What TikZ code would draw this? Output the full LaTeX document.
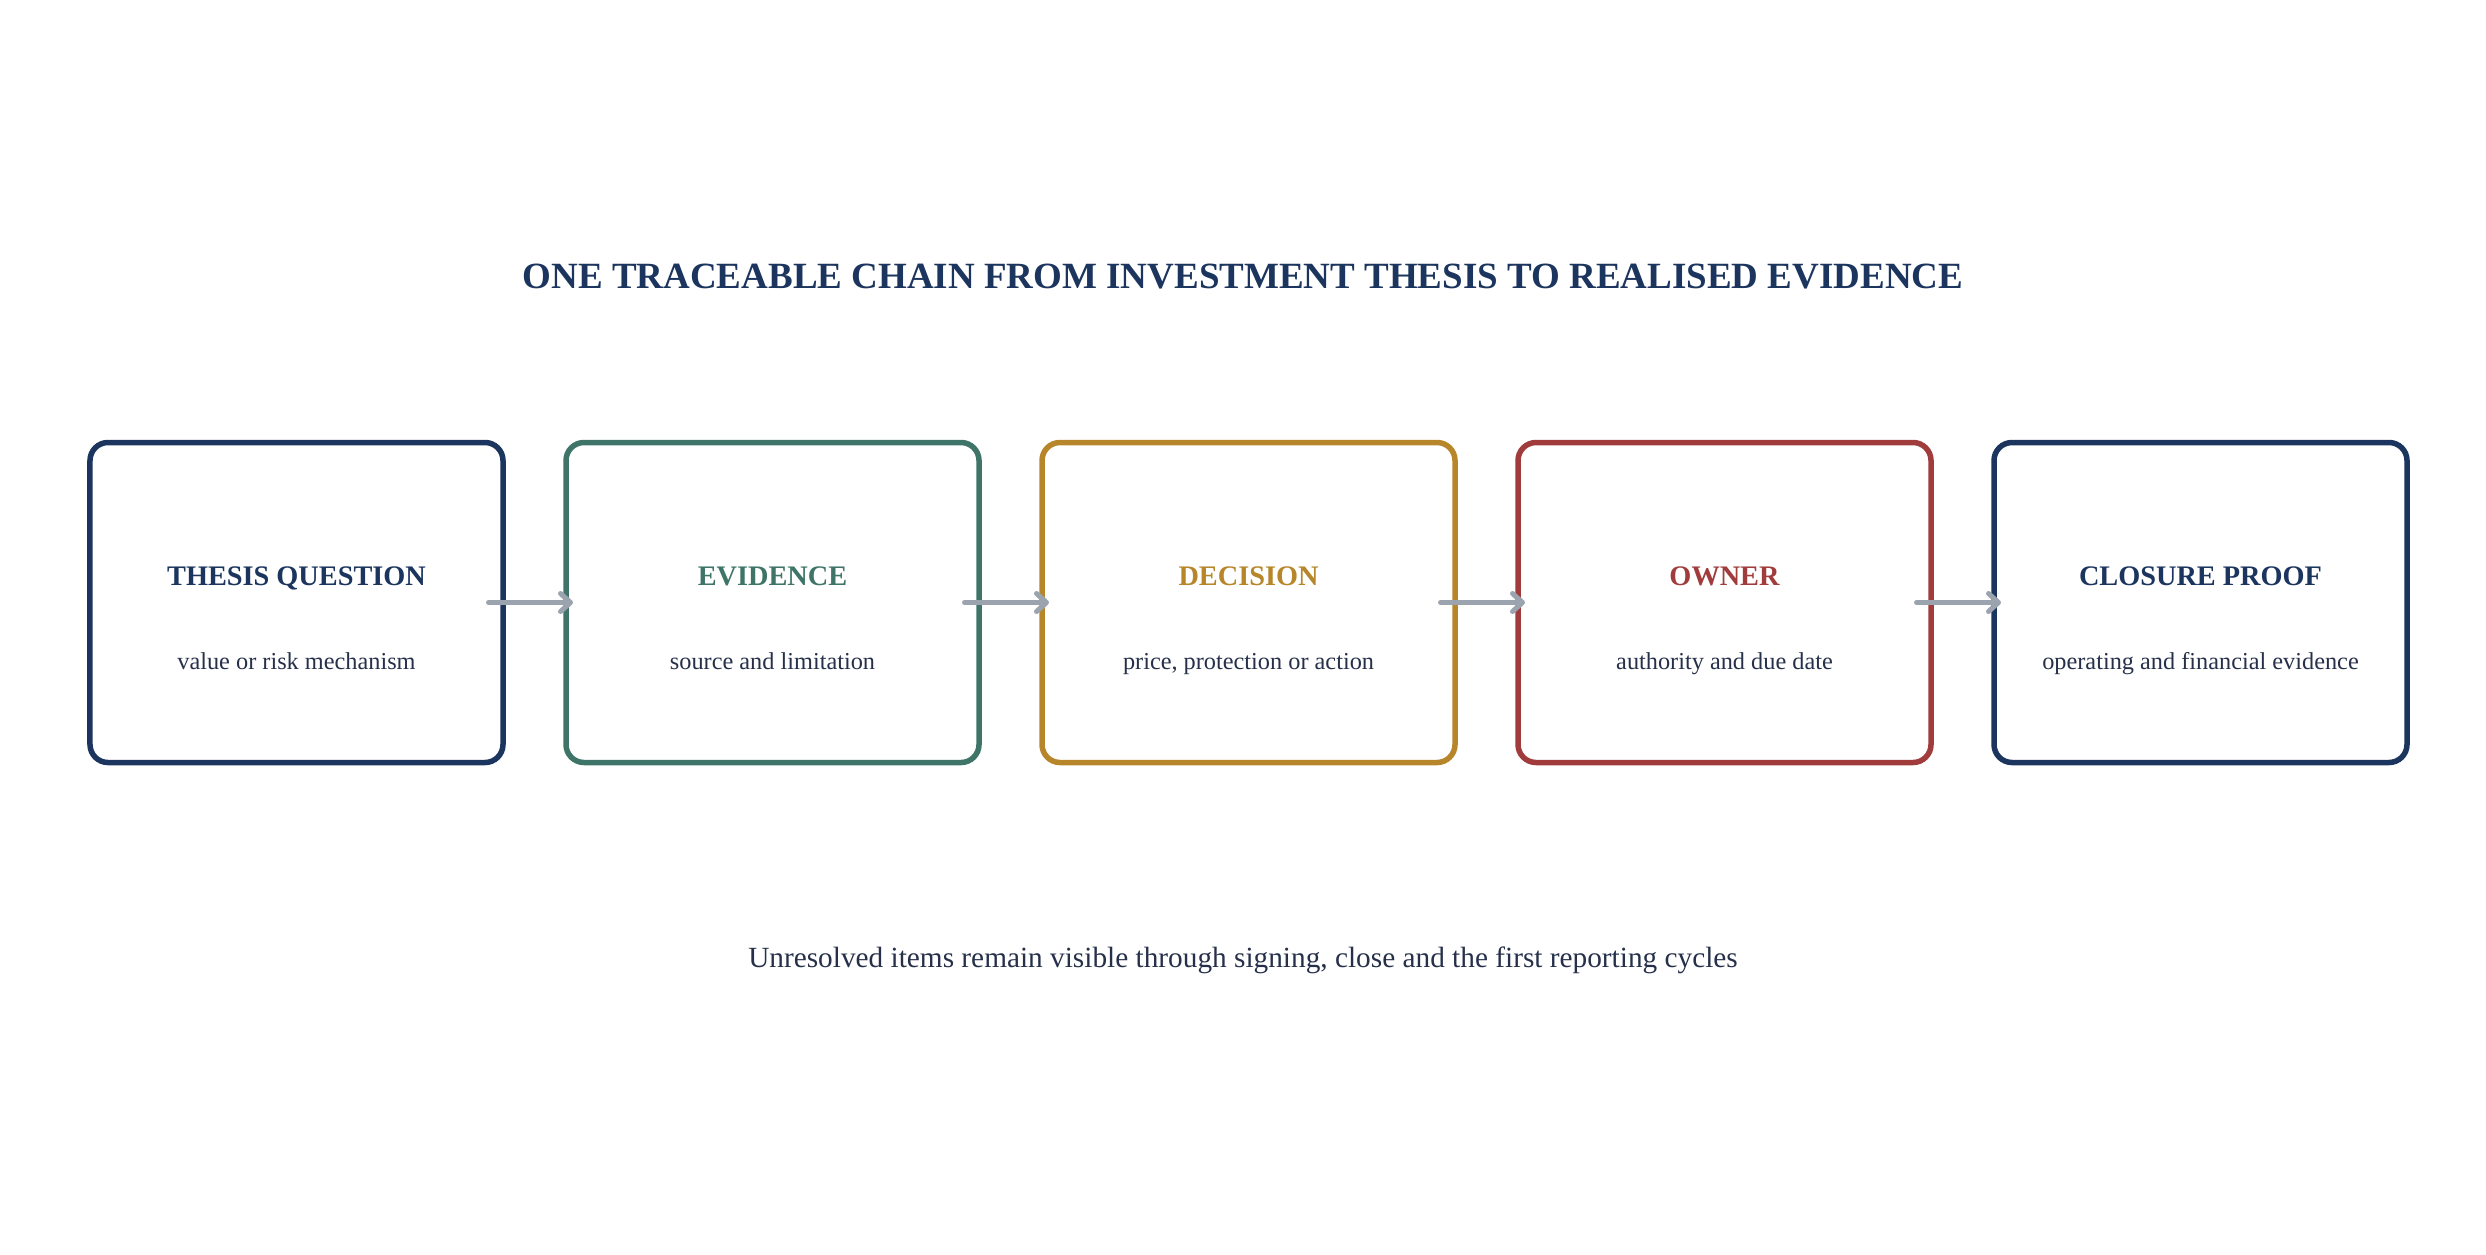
\documentclass[tikz,border=0pt]{standalone}
\usepackage{fontspec}
\setmainfont{Liberation Serif}
\usetikzlibrary{arrows.meta}
\definecolor{navy}{HTML}{1C355E}
\definecolor{teal}{HTML}{3E7568}
\definecolor{gold}{HTML}{B8862A}
\definecolor{crimson}{HTML}{A03C3C}
\definecolor{ink}{HTML}{26304A}
\definecolor{arrowgray}{HTML}{9AA3AE}
\tikzset{
  stagebox/.style={draw=#1, line width=5.5bp, rounded corners=18bp, minimum width=413bp, minimum height=320bp, inner sep=0pt, outer sep=0pt, fill=white},
  stagetitle/.style={anchor=base, text=#1, font=\fontsize{28.3bp}{34bp}\selectfont\bfseries, inner sep=0pt},
  stagesub/.style={anchor=base, text=ink, font=\fontsize{24.3bp}{29bp}\selectfont, inner sep=0pt},
  flow/.style={draw=arrowgray, line width=5bp, line cap=round, -{Straight Barb[length=10bp, width=18bp, line join=round, line cap=round]}},
}
\begin{document}
\begin{tikzpicture}[x=1bp, y=-1bp]
\useasboundingbox (0,0) rectangle (2486,1254);
\node[anchor=base, text=navy, font=\fontsize{37bp}{44bp}\selectfont\bfseries, inner sep=0pt] (title) at (1243,288) {ONE TRACEABLE CHAIN FROM INVESTMENT THESIS TO REALISED EVIDENCE};
\foreach \i/\c/\t/\s in {1/navy/THESIS QUESTION/value or risk mechanism, 2/teal/EVIDENCE/source and limitation, 3/gold/DECISION/{price, protection or action}, 4/crimson/OWNER/authority and due date, 5/navy/CLOSURE PROOF/operating and financial evidence}{
  \node[stagebox=\c] (b\i) at ({296.5+(\i-1)*476},602.5) {};
  \node[stagetitle=\c] (t\i) at ({296.5+(\i-1)*476},585) {\t};
  \node[stagesub] (s\i) at ({296.5+(\i-1)*476},669) {\s};
}
\foreach \i [evaluate=\i as \j using int(\i+1)] in {1,2,3,4}{
  \coordinate (a\i) at ([xshift=-14.5bp]b\i.east);
  \coordinate (e\i) at ([xshift=7bp]b\j.west);
  \draw[flow] (a\i) -- (e\i);
}
\node[anchor=base, text=ink, font=\fontsize{29.3bp}{35bp}\selectfont, inner sep=0pt] (note) at (1243,967) {Unresolved items remain visible through signing, close and the first reporting cycles};
\end{tikzpicture}
\end{document}
